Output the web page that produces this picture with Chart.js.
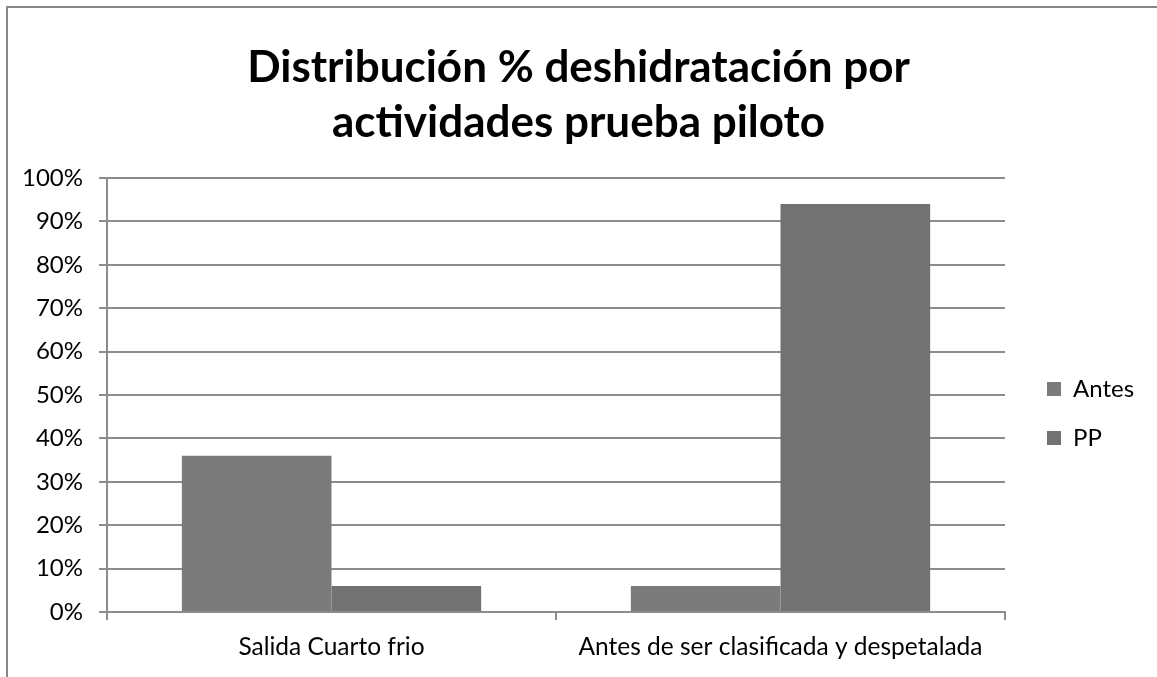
<!DOCTYPE html>
<html>
<head>
<meta charset="utf-8">
<script src="https://cdn.jsdelivr.net/npm/chart.js@4.4.1/dist/chart.umd.min.js"></script>
<style>
  html, body { margin: 0; padding: 0; background: #ffffff; }
  #wrap { width: 1157px; height: 677px; position: relative; }
</style>
</head>
<body>
<div id="wrap"><canvas id="c" width="1157" height="677"></canvas></div>
<script>
// ---- data ----
const titleLines = ['Distribución % deshidratación por', 'actividades prueba piloto'];
const categories = ['Salida Cuarto frio', 'Antes de ser clasificada y despetalada'];
const seriesNames = ['Antes', 'PP'];
const antesValues = [36, 6];
const ppValues = [6, 94];
const yMin = 0, yMax = 100, yStep = 10;
const tickSuffix = '%';

// ---- styles ----
const gridColor = '#8c8c8c';
const antesColor = '#7b7b7b';
const ppColor = '#727272';
const fontFamily = 'Lato, "Open Sans", sans-serif';

const tweaks = {
  id: 'tweaks',
  beforeLayout(chart) {
    const lg = chart.legend;
    if (lg && !lg._patched) {
      const f = lg.fit;
      lg.fit = function () { f.call(this); if (this.isHorizontal && !this.isHorizontal()) this.width = 152; };
      lg._patched = true;
    }
  },
  afterLayout(chart) {
    const lg = chart.legend;
    if (!lg) return;
    const w = lg.width, h = lg.height;
    lg.left = 1022; lg.right = lg.left + w;
    lg.top = 352; lg.bottom = lg.top + h;
  },
  beforeDraw(chart) {
    const ctx = chart.ctx;
    ctx.save();
    ctx.fillStyle = '#ffffff';
    ctx.fillRect(0, 0, chart.width, chart.height);
    ctx.strokeStyle = '#878787';
    ctx.lineWidth = 2;
    ctx.beginPath();
    ctx.moveTo(7, chart.height + 5);
    ctx.lineTo(7, 7);
    ctx.lineTo(chart.width + 5, 7);
    ctx.stroke();
    ctx.restore();
  }
};

new Chart(document.getElementById('c'), {
  type: 'bar',
  data: {
    labels: categories,
    datasets: [
      { label: seriesNames[0], data: antesValues, backgroundColor: antesColor, borderWidth: 0 },
      { label: seriesNames[1], data: ppValues, backgroundColor: ppColor, borderWidth: 0 }
    ]
  },
  options: {
    responsive: false,
    animation: false,
    devicePixelRatio: 1,
    categoryPercentage: 2 / 3,
    barPercentage: 1,
    layout: { padding: 0 },
    plugins: {
      title: {
        display: true,
        text: titleLines,
        color: '#000000',
        font: { family: fontFamily, size: 44, weight: 'bold', lineHeight: 55 / 44 },
        padding: { top: 40.5, bottom: 27.5 }
      },
      legend: {
        display: true,
        position: 'right',
        align: 'start',
        labels: {
          color: '#000000',
          font: { family: fontFamily, size: 24 },
          boxWidth: 14,
          boxHeight: 14,
          padding: 25
        }
      },
      tooltip: { enabled: false }
    },
    scales: {
      x: {
        afterFit(scale) { scale.height = 65; },
        grid: { offset: true, drawOnChartArea: false, drawTicks: true, tickLength: 8, color: gridColor, lineWidth: 2 },
        border: { display: true, color: gridColor, width: 2 },
        ticks: { color: '#000000', font: { family: fontFamily, size: 24.5 }, padding: 12, maxRotation: 0, autoSkip: false }
      },
      y: {
        min: yMin,
        max: yMax,
        afterFit(scale) { scale.width = 107; },
        grid: { color: gridColor, lineWidth: 2, tickLength: 8, drawTicks: true },
        border: { display: true, color: gridColor, width: 2 },
        ticks: {
          stepSize: yStep,
          color: '#000000',
          font: { family: fontFamily, size: 24 },
          padding: 16,
          callback: (v) => v + tickSuffix
        }
      }
    }
  },
  plugins: [tweaks]
});
</script>
</body>
</html>
